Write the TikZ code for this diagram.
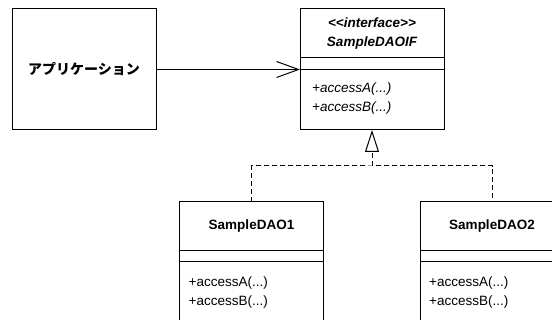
\documentclass[tikz,border=0pt]{standalone}
\usepackage{fontspec}
\setmainfont{Liberation Sans}
\newfontfamily\jpfont{Noto Sans CJK JP}
\usetikzlibrary{arrows.meta, positioning}

\begin{document}
\begin{tikzpicture}[
    x=1pt, y=1pt,
    every node/.style={font=\fontsize{13.5}{19}\selectfont, inner sep=0pt},
    classbox/.style={draw, line width=1pt, outer sep=0pt, minimum width=144pt, minimum height=121pt, anchor=north},
    title/.style={align=center, font=\fontsize{13.5}{19}\selectfont\bfseries},
    member/.style={align=left, anchor=west},
    sep/.style={line width=1pt},
    assoc/.style={-{Straight Barb[length=22pt, width=16pt]}, line width=1pt},
    realize/.style={dash pattern=on 5pt off 3pt, line width=1pt},
    gen/.style={-{Triangle[open, length=22pt, width=14pt]}}
]
\clip (0,0) rectangle (552,-320);

% client
\node[classbox] (app) at (84,-9) {};
\node[title, font=\jpfont\fontsize{14}{19}\selectfont\bfseries] (apptitle) at (app.center) {アプリケーション};

% interface
\node[classbox] (daoif) at (372,-9) {};
\node[title, font=\fontsize{13.5}{19}\selectfont\bfseries\itshape] (daoiftitle) at ([yshift=-24.5pt]daoif.north) {<{}<interface>{}>\\SampleDAOIF};
\draw[sep] ([yshift=-49pt]daoif.north west) -- ([yshift=-49pt]daoif.north east);
\draw[sep] ([yshift=-61pt]daoif.north west) -- ([yshift=-61pt]daoif.north east);
\node[member, font=\fontsize{13.5}{19}\selectfont\itshape] (daoifops) at ([xshift=12pt, yshift=-90pt]daoif.north west) {+accessA(...)\\+accessB(...)};

% implementations
\node[classbox, minimum height=140pt] (dao1) at (251.5,-202) {};
\node[title] (dao1title) at ([yshift=-24pt]dao1.north) {SampleDAO1};
\draw[sep] ([yshift=-49pt]dao1.north west) -- ([yshift=-49pt]dao1.north east);
\draw[sep] ([yshift=-60pt]dao1.north west) -- ([yshift=-60pt]dao1.north east);
\node[member] (dao1ops) at ([xshift=9pt, yshift=-90.5pt]dao1.north west) {+accessA(...)\\+accessB(...)};

\node[classbox, minimum height=140pt] (dao2) at (492,-202) {};
\node[title] (dao2title) at ([yshift=-24pt]dao2.north) {SampleDAO2};
\draw[sep] ([yshift=-49pt]dao2.north west) -- ([yshift=-49pt]dao2.north east);
\draw[sep] ([yshift=-60pt]dao2.north west) -- ([yshift=-60pt]dao2.north east);
\node[member] (dao2ops) at ([xshift=9pt, yshift=-90.5pt]dao2.north west) {+accessA(...)\\+accessB(...)};

% connectors
\draw[assoc] (app) -- (daoif);
\coordinate (fork) at (372,-166);
\draw[realize] (dao1.north) |- (fork) -| (dao2.north);
\draw[realize, gen] (fork) -- (daoif.south);
\end{tikzpicture}
\end{document}
